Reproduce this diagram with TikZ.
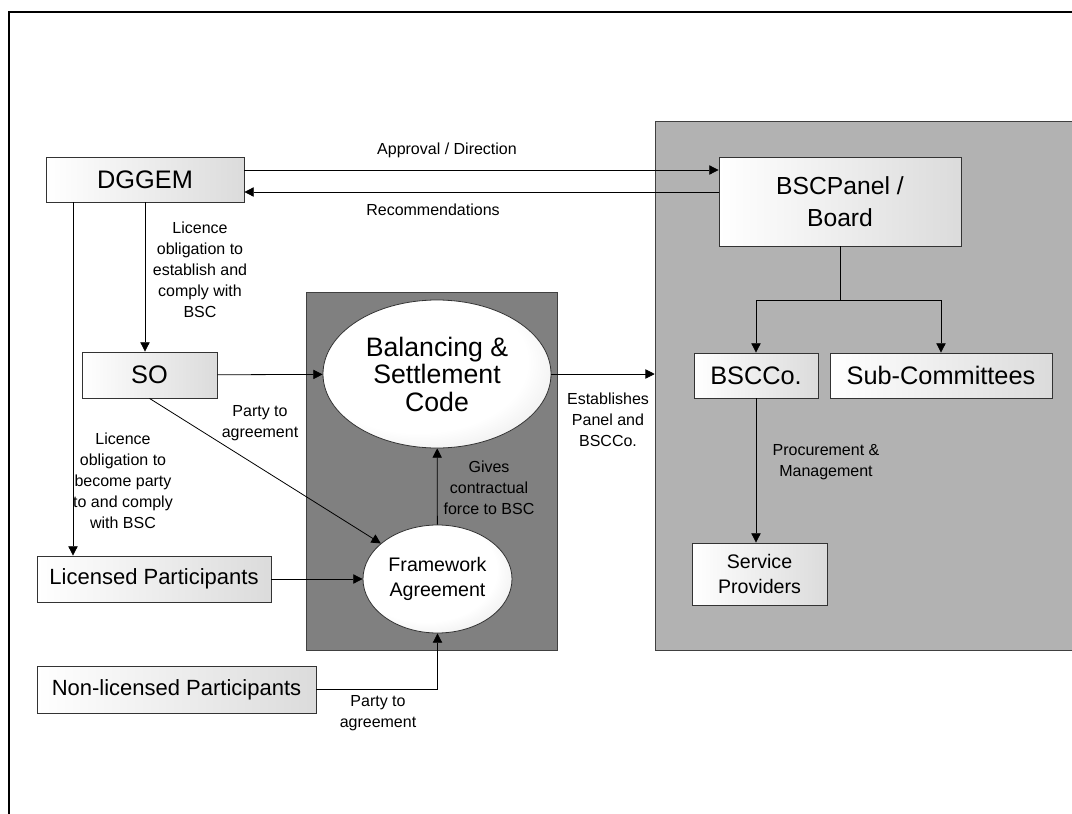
\documentclass[tikz,border=0pt]{standalone}
\usepackage{fontspec}
\setmainfont{Liberation Sans}
\usetikzlibrary{arrows.meta, shapes.geometric}

\pgfdeclareradialshading{ovalshade}{\pgfpoint{-8bp}{8bp}}{color(0bp)=(white); color(24bp)=(white); color(50bp)=(black!24)}

\begin{document}
\begin{tikzpicture}[x = 0.75pt, y = -0.75pt,
        box/.style = {draw = black!80, line width = 0.6pt, left color = white, right color = black!14, inner sep = 0pt, align = center},
        oval/.style = {ellipse, draw = black!80, line width = 0.6pt, shading = ovalshade, inner sep = 0pt, align = center},
        lbl/.style = {align = center, inner sep = 0pt, font = \fontsize{12}{15.7}\selectfont},
        arr/.style = {-{Triangle[width = 7pt, length = 7pt]}, line width = 0.6pt},
        link/.style = {line width = 0.6pt}]

        \useasboundingbox (0, 0) rectangle (1072, 814);
        \clip (0, 0) rectangle (1072, 814);

        % frame
        \draw [line width = 1.5pt] (9, 830) -- (9, 12) -- (1090, 12);

        % panels
        \node [draw = black!75, fill = black!50, minimum width = 188.25pt, minimum height = 268.5pt] (fwpanel) at (431.5, 471) {};
        \node [draw = black!75, fill = black!30, minimum width = 326.25pt, minimum height = 396.75pt] (bscpanel) at (872.5, 385.5) {};

        % boxes
        \node [box, minimum width = 148.5pt, minimum height = 33.75pt, font = \fontsize{19}{22}\selectfont] (dggem) at (145, 179.5) {DGGEM};
        \node [box, minimum width = 101.25pt, minimum height = 34.5pt, font = \fontsize{19}{22}\selectfont] (so) at (149.5, 375) {SO};
        \node [box, minimum width = 175.5pt, minimum height = 34.5pt, font = \fontsize{16.5}{20}\selectfont] (lic) at (154, 579) {Licensed Participants};
        \node [box, minimum width = 209.25pt, minimum height = 35.25pt, font = \fontsize{16.5}{20}\selectfont] (nonlic) at (176.5, 689.5) {Non-licensed Participants};
        \node [box, minimum width = 181.5pt, minimum height = 66.75pt, font = \fontsize{18.5}{24}\selectfont] (board) at (840, 201.5) {BSCPanel /\\Board};
        \node [box, minimum width = 93pt, minimum height = 33.75pt, font = \fontsize{19}{22}\selectfont] (bscco) at (756, 375.5) {BSCCo.};
        \node [box, minimum width = 166.5pt, minimum height = 33.75pt, font = \fontsize{19}{22}\selectfont] (subcom) at (941, 375.5) {Sub-Committees};
        \node [box, minimum width = 101.25pt, minimum height = 46.5pt, font = \fontsize{14.7}{18.75}\selectfont] (serv) at (759.5, 574) {Service\\Providers};

        % codes
        \node [oval, minimum width = 171pt, minimum height = 111pt, font = \fontsize{20}{20.6}\selectfont] (bsc) at (437, 374) {Balancing \&\\Settlement\\Code};
        \node [oval, minimum width = 111.75pt, minimum height = 81pt, font = \fontsize{14.7}{18.75}\selectfont] (fwa) at (437.5, 579) {Framework\\Agreement};

        % connectors
        \coordinate (appr) at (0, 170);
        \coordinate (reco) at (0, 192);
        \coordinate (lx) at (73, 0);
        \coordinate (fork) at (840, 300);

        \draw [arr] (dggem.east |- appr) -- (board.west |- appr);
        \draw [arr] (board.west |- reco) -- (dggem.east |- reco);
        \draw [arr] (dggem.south) -- (dggem.south |- so.north);
        \draw [arr] (dggem.south -| lx) -- (lic.north -| lx);
        \draw [arr] (so) -- (bsc);
        \draw [arr] (so.south) -- (fwa);
        \draw [arr] (lic) -- (fwa);
        \draw [arr] (nonlic.east) -| (fwa.south);
        \draw [arr] (fwa) -- (bsc);
        \draw [arr] (bsc.east) -- (bsc.east -| bscpanel.west);
        \draw [link] (board.south) -- (fork);
        \foreach \n in {bscco, subcom} {
                \draw [arr] (fork) -| (\n.north);
            }
        \draw [arr] (bscco.south) -- (bscco.south |- serv.north);

        % labels
        \node [lbl] (lappr) at (447, 150) {Approval / Direction};
        \node [lbl] (lreco) at (433, 210) {Recommendations};
        \node [lbl] (lsoob) at (200, 270) {Licence\\obligation to\\establish and\\comply with\\BSC};
        \node [lbl] (llcob) at (123, 481) {Licence\\obligation to\\become party\\to and comply\\with BSC};
        \node [lbl] (lsopa) at (260, 423) {Party to\\agreement};
        \node [lbl] (lgive) at (489, 488) {Gives\\contractual\\force to BSC};
        \node [lbl] (lesta) at (608, 420) {Establishes\\Panel and\\BSCCo.};
        \node [lbl] (lproc) at (826, 462.5) {Procurement \&\\Management};
        \node [lbl] (lnlpa) at (378, 713.5) {Party to\\agreement};

    \end{tikzpicture}
\end{document}
